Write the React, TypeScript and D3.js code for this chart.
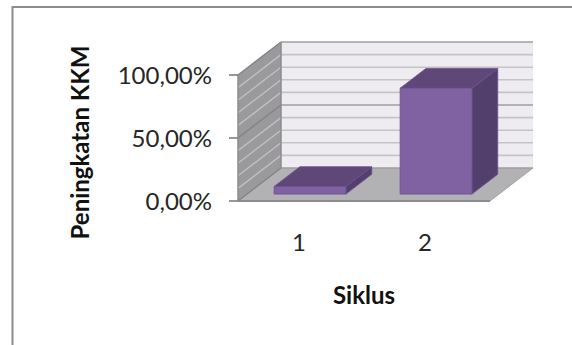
import React from "react";
import * as d3 from "d3";

const categories = ["1", "2"];
const values = [6, 84];
const majorTicks = [0, 50, 100];
const minorTicks = [0, 10, 20, 30, 40, 50, 60, 70, 80, 90, 100];
const yTitle = "Peningkatan KKM";
const xTitle = "Siklus";

const W = 572;
const H = 345;
const FONT = "Lato, 'Open Sans', sans-serif";

// Oblique projection: the front floor edge, plus the offset to the back wall.
const depthX = 43;
const depthY = -33;
const x0 = 238;
const x1 = 490;
const floorY = 201;
const topY = 75;

const y = d3.scaleLinear().domain([0, 100]).range([floorY, topY]);
const x = d3.scaleBand<string>().domain(categories).range([x0, x1]).paddingInner(0.43).paddingOuter(0.215);

// Bars sit in the middle of the floor's depth.
const barStart = 0.21;
const barDepth = 0.6;

const poly = (pts: [number, number][]) => d3.line()(pts) + "Z";

export default function App() {
  const bw = x.bandwidth();
  return (
    <svg width={W} height={H} style={{ position: "absolute", left: 0, top: 0, background: "#fff" }}>
      <path d={`M12.5,${H}V7H${W}`} fill="none" stroke="#8c8c8c" strokeWidth={2} />

      {/* back wall */}
      <rect x={x0 + depthX} y={topY + depthY} width={x1 - x0} height={floorY - topY} fill="#eeecf1" />
      {/* side wall */}
      <path
        d={poly([[x0, floorY], [x0, topY], [x0 + depthX, topY + depthY], [x0 + depthX, floorY + depthY]])}
        fill="#9a999c"
      />
      {/* floor */}
      <path
        d={poly([[x0, floorY], [x1, floorY], [x1 + depthX, floorY + depthY], [x0 + depthX, floorY + depthY]])}
        fill="#b2b1b4"
      />

      {minorTicks.map((t) => {
        const major = t % 50 === 0;
        return (
          <g key={t}>
            <line
              x1={x0 + depthX} x2={x1 + depthX} y1={y(t) + depthY} y2={y(t) + depthY}
              stroke={major ? "#9f9ea1" : "#c4c3c6"} strokeWidth={1.6}
            />
            <line
              x1={x0} x2={x0 + depthX} y1={y(t)} y2={y(t) + depthY}
              stroke={major ? "#838285" : "#c0bfc2"} strokeWidth={1.4}
            />
          </g>
        );
      })}

      <line x1={x0 + depthX} x2={x0 + depthX} y1={topY + depthY} y2={floorY + depthY} stroke="#8c8b8e" strokeWidth={1.5} />
      <line x1={x0} x2={x0} y1={topY} y2={floorY} stroke="#8c8b8e" strokeWidth={1.5} />
      <line x1={x0} x2={x1} y1={floorY} y2={floorY} stroke="#8c8b8e" strokeWidth={1.8} />
      <line x1={x1} x2={x1 + depthX} y1={floorY} y2={floorY + depthY} stroke="#a5a4a7" strokeWidth={1} />

      {majorTicks.map((t) => (
        <g key={t}>
          <line x1={x0 - 9} x2={x0} y1={y(t)} y2={y(t)} stroke="#7f7f7f" strokeWidth={1.6} />
          <text x={212} y={y(t) + 8.5} textAnchor="end" fontFamily={FONT} fontSize={24} fill="#262626">
            {d3.format(".2f")(t).replace(".", ",")}%
          </text>
        </g>
      ))}

      {categories.map((c, i) => {
        const left = x(c)! + barStart * depthX;
        const right = left + bw;
        const base = floorY + barStart * depthY;
        const top = y(values[i]) + barStart * depthY;
        const dx = barDepth * depthX;
        const dy = barDepth * depthY;
        return (
          <g key={c} stroke="#6a5090" strokeWidth={0.8} strokeLinejoin="round">
            <path d={poly([[right, base], [right, top], [right + dx, top + dy], [right + dx, base + dy]])} fill="#533f6c" />
            <path d={poly([[left, top], [right, top], [right + dx, top + dy], [left + dx, top + dy]])} fill="#5f4878" />
            <rect x={left} y={top} width={bw} height={base - top} fill="#8061a2" />
            <text
              x={x(c)! + bw / 2 - 2} y={251} textAnchor="middle" stroke="none"
              fontFamily={FONT} fontSize={24} fill="#262626"
            >
              {c}
            </text>
          </g>
        );
      })}

      <text x={364} y={304} textAnchor="middle" fontFamily={FONT} fontSize={24} fontWeight={700} fill="#111">
        {xTitle}
      </text>
      <text
        transform="translate(89,142.5) rotate(-90)" textAnchor="middle"
        fontFamily={FONT} fontSize={24} fontWeight={700} fill="#111"
      >
        {yTitle}
      </text>
    </svg>
  );
}
